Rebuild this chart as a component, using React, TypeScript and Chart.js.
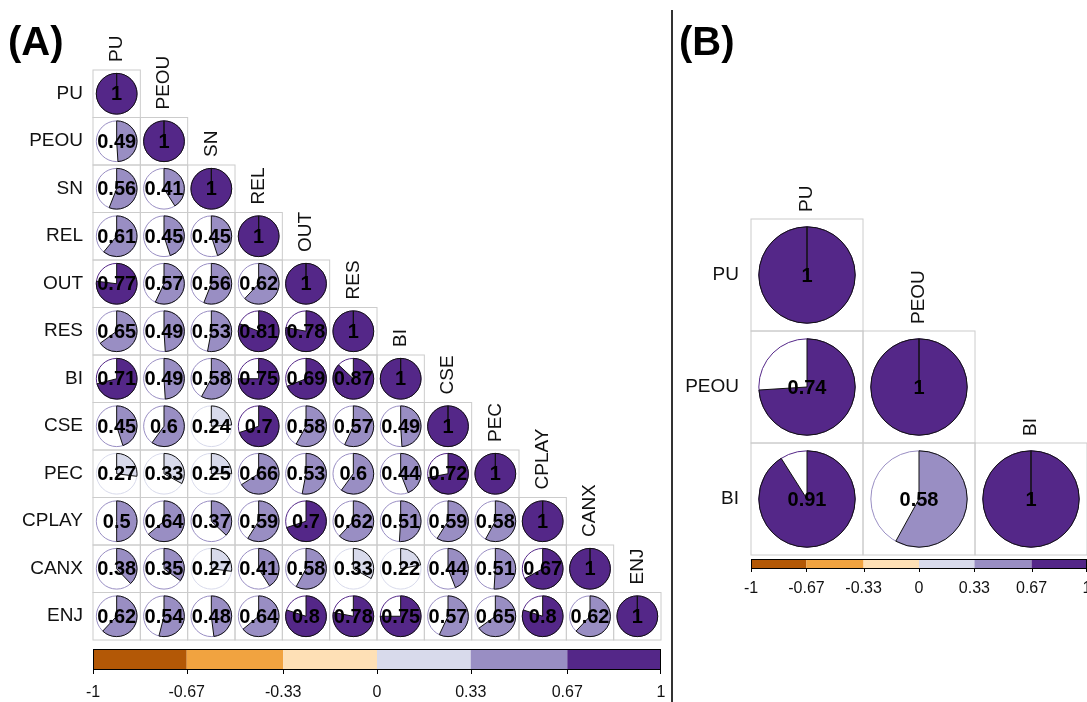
import React, { useEffect, useRef } from "react";
import { Chart, registerables } from "chart.js";

Chart.register(...registerables);

// ---------------- DATA ----------------
const labelsA = ["PU", "PEOU", "SN", "REL", "OUT", "RES", "BI", "CSE", "PEC", "CPLAY", "CANX", "ENJ"];
const corrA: number[][] = [
  [1],
  [0.49, 1],
  [0.56, 0.41, 1],
  [0.61, 0.45, 0.45, 1],
  [0.77, 0.57, 0.56, 0.62, 1],
  [0.65, 0.49, 0.53, 0.81, 0.78, 1],
  [0.71, 0.49, 0.58, 0.75, 0.69, 0.87, 1],
  [0.45, 0.6, 0.24, 0.7, 0.58, 0.57, 0.49, 1],
  [0.27, 0.33, 0.25, 0.66, 0.53, 0.6, 0.44, 0.72, 1],
  [0.5, 0.64, 0.37, 0.59, 0.7, 0.62, 0.51, 0.59, 0.58, 1],
  [0.38, 0.35, 0.27, 0.41, 0.58, 0.33, 0.22, 0.44, 0.51, 0.67, 1],
  [0.62, 0.54, 0.48, 0.64, 0.8, 0.78, 0.75, 0.57, 0.65, 0.8, 0.62, 1],
];

const labelsB = ["PU", "PEOU", "BI"];
const corrB: number[][] = [
  [1],
  [0.74, 1],
  [0.91, 0.58, 1],
];

const cbTicks = [-1, -0.67, -0.33, 0, 0.33, 0.67, 1];
const cbLabels = ["-1", "-0.67", "-0.33", "0", "0.33", "0.67", "1"];
const cbColors = ["#B35806", "#F1A340", "#FEE0B6", "#D8DAEB", "#998EC3", "#542788"];

// ---------------- HELPERS ----------------
const FONT = "'Liberation Sans', Arial, sans-serif";

function colorFor(v: number): string {
  const idx = Math.max(0, Math.min(cbColors.length - 1, Math.floor((v + 1) / (2 / cbColors.length))));
  return cbColors[idx];
}

type PanelCfg = {
  title: string;
  labels: string[];
  corr: number[][];
  width: number;
  height: number;
  left: number;
  pad: { left: number; top: number; right: number; bottom: number };
  titleX: number;
  titleY: number;
  rowGap: number;
  colGap: number;
  cbGap: number;
  cbH: number;
  cbTickLen: number;
  cbLabelOffset: number;
};

function makePlugin(cfg: PanelCfg) {
  return {
    id: "corrDraw",
    afterDatasetsDraw(chart: any) {
      const ctx: CanvasRenderingContext2D = chart.ctx;
      const xs = chart.scales.x;
      const ys = chart.scales.y;
      const cb = chart.scales.cb;
      const cw = xs.getPixelForValue(1) - xs.getPixelForValue(0);
      const ch = ys.getPixelForValue(1) - ys.getPixelForValue(0);
      const r = 0.43 * Math.min(cw, ch);
      const meta = chart.getDatasetMeta(0);
      const raws = chart.data.datasets[0].data as any[];
      ctx.save();

      // cells
      ctx.strokeStyle = "#CCCCCC";
      ctx.lineWidth = 1;
      meta.data.forEach((el: any) => {
        ctx.strokeRect(el.x - cw / 2, el.y - ch / 2, cw, ch);
      });

      // pies
      meta.data.forEach((el: any, k: number) => {
        const v = raws[k].v as number;
        const col = colorFor(v);
        ctx.beginPath();
        ctx.arc(el.x, el.y, r, 0, Math.PI * 2);
        ctx.fillStyle = "#FFFFFF";
        ctx.fill();
        ctx.strokeStyle = col;
        ctx.lineWidth = 1;
        ctx.stroke();
        const start = -Math.PI / 2;
        const end = start + v * Math.PI * 2;
        ctx.beginPath();
        ctx.moveTo(el.x, el.y);
        ctx.arc(el.x, el.y, r, start, end, v < 0);
        ctx.closePath();
        ctx.fillStyle = col;
        ctx.fill();
        ctx.strokeStyle = "#111111";
        ctx.lineWidth = 1;
        ctx.stroke();
      });

      // numbers
      ctx.fillStyle = "#000000";
      ctx.font = `bold 20px ${FONT}`;
      ctx.textAlign = "center";
      ctx.textBaseline = "middle";
      meta.data.forEach((el: any, k: number) => {
        const v = raws[k].v as number;
        ctx.fillText(String(v), el.x, el.y + 1);
      });

      // row labels
      ctx.font = `19px ${FONT}`;
      ctx.fillStyle = "#111111";
      ctx.textAlign = "right";
      ctx.textBaseline = "middle";
      cfg.labels.forEach((lab, i) => {
        ctx.fillText(lab, chart.chartArea.left - cfg.rowGap, ys.getPixelForValue(i));
      });

      // column labels (rotated, above diagonal cell)
      ctx.textAlign = "left";
      ctx.textBaseline = "middle";
      cfg.labels.forEach((lab, j) => {
        const x = xs.getPixelForValue(j);
        const y = ys.getPixelForValue(j) - ch / 2 - cfg.colGap;
        ctx.save();
        ctx.translate(x, y);
        ctx.rotate(-Math.PI / 2);
        ctx.fillText(lab, 0, 0);
        ctx.restore();
      });

      // colour bar
      const top = chart.chartArea.bottom + cfg.cbGap;
      for (let b = 0; b < cbColors.length; b++) {
        const x0 = cb.getPixelForValue(cbTicks[b]);
        const x1 = cb.getPixelForValue(cbTicks[b + 1]);
        ctx.fillStyle = cbColors[b];
        ctx.fillRect(x0, top, x1 - x0, cfg.cbH);
      }
      const cbL = cb.getPixelForValue(cbTicks[0]);
      const cbR = cb.getPixelForValue(cbTicks[cbTicks.length - 1]);
      ctx.strokeStyle = "#000000";
      ctx.lineWidth = 1;
      ctx.strokeRect(cbL + 0.5, top + 0.5, cbR - cbL - 1, cfg.cbH);
      ctx.beginPath();
      cbTicks.forEach((t) => {
        const x = Math.round(cb.getPixelForValue(t)) + 0.5;
        ctx.moveTo(Math.min(x, cbR - 0.5), top + cfg.cbH);
        ctx.lineTo(Math.min(x, cbR - 0.5), top + cfg.cbH + cfg.cbTickLen);
      });
      ctx.stroke();
      ctx.fillStyle = "#111111";
      ctx.font = `16px ${FONT}`;
      ctx.textAlign = "center";
      ctx.textBaseline = "middle";
      cbTicks.forEach((t, i) => {
        ctx.fillText(cbLabels[i], cb.getPixelForValue(t), top + cfg.cbH + cfg.cbLabelOffset);
      });

      // panel title
      ctx.fillStyle = "#000000";
      ctx.font = `bold 40px ${FONT}`;
      ctx.textAlign = "left";
      ctx.textBaseline = "alphabetic";
      ctx.fillText(cfg.title, cfg.titleX, cfg.titleY);

      ctx.restore();
    },
  };
}

function Panel({ cfg }: { cfg: PanelCfg }) {
  const ref = useRef<HTMLCanvasElement | null>(null);
  useEffect(() => {
    if (!ref.current) return;
    const n = cfg.labels.length;
    const points: any[] = [];
    cfg.corr.forEach((row, i) => {
      row.forEach((v, j) => {
        points.push({ x: j, y: i, v });
      });
    });
    const chart = new Chart(ref.current, {
      type: "scatter",
      data: {
        datasets: [
          {
            data: points,
            pointRadius: 0,
            pointHoverRadius: 0,
          },
        ],
      },
      options: {
        animation: false,
        responsive: false,
        events: [],
        layout: { padding: cfg.pad },
        plugins: {
          legend: { display: false },
          tooltip: { enabled: false },
        },
        scales: {
          x: { type: "linear", min: -0.5, max: n - 0.5, display: false },
          y: { type: "linear", min: -0.5, max: n - 0.5, reverse: true, display: false },
          cb: { type: "linear", axis: "x", position: "bottom", min: -1, max: 1, display: false },
        },
      } as any,
      plugins: [makePlugin(cfg)],
    });
    return () => chart.destroy();
  }, [cfg]);
  return (
    <canvas
      ref={ref}
      width={cfg.width}
      height={cfg.height}
      style={{ position: "absolute", left: cfg.left, top: 0, width: cfg.width, height: cfg.height }}
    />
  );
}

const cfgA: PanelCfg = {
  title: "(A)",
  labels: labelsA,
  corr: corrA,
  width: 672,
  height: 702,
  left: 0,
  pad: { left: 93, top: 70, right: 11, bottom: 62 },
  titleX: 8,
  titleY: 55,
  rowGap: 10,
  colGap: 8,
  cbGap: 9,
  cbH: 20,
  cbTickLen: 5,
  cbLabelOffset: 24,
};

const cfgB: PanelCfg = {
  title: "(B)",
  labels: labelsB,
  corr: corrB,
  width: 415,
  height: 702,
  left: 672,
  pad: { left: 79, top: 219, right: 0, bottom: 147 },
  titleX: 7,
  titleY: 55,
  rowGap: 12,
  colGap: 7,
  cbGap: 4,
  cbH: 9,
  cbTickLen: 4,
  cbLabelOffset: 21,
};

export default function App() {
  return (
    <div
      style={{
        position: "absolute",
        left: 0,
        top: 0,
        width: 1087,
        height: 702,
        overflow: "hidden",
        background: "#FFFFFF",
      }}
    >
      <Panel cfg={cfgA} />
      <Panel cfg={cfgB} />
      <div style={{ position: "absolute", left: 671, top: 10, width: 2, height: 692, background: "#333333" }} />
    </div>
  );
}
